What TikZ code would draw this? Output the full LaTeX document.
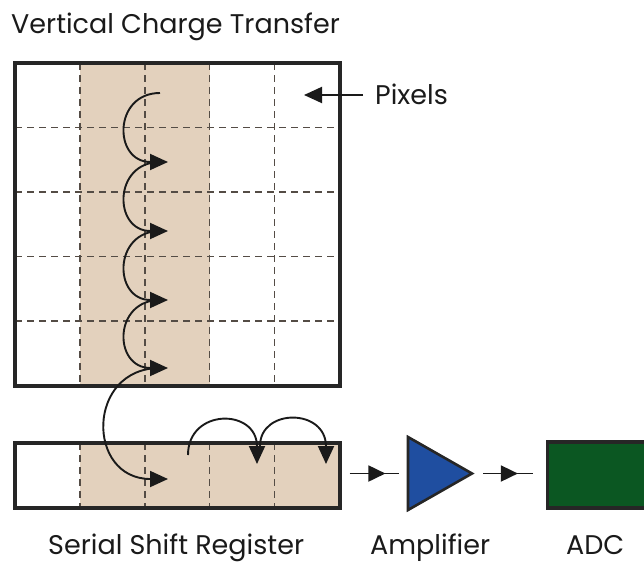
\documentclass[tikz,border=0pt]{standalone}
\usepackage{fontspec}
\setmainfont{Poppins}
\usetikzlibrary{arrows.meta,decorations.markings,calc}
\definecolor{tan}{HTML}{E3D1BD}
\definecolor{dashgray}{HTML}{544C45}
\definecolor{border}{HTML}{262626}
\definecolor{ink}{HTML}{1A1A1A}
\definecolor{ampblue}{HTML}{1F4EA0}
\definecolor{adcgreen}{HTML}{0B5722}
\tikzset{
  frame/.style={draw=border, line width=3.2pt, inner sep=0pt},
  gridline/.style={draw=dashgray, line width=1.6pt, dash pattern=on 7pt off 5pt},
  hop/.style={draw=ink, line width=1.9pt, -{Triangle[length=18pt,width=16pt]}},
  link/.style={draw=ink, line width=1.8pt},
  midtip/.style={postaction={decorate}, decoration={markings, mark=at position #1 with {\arrow{Triangle[length=17pt,width=16pt]}}}},
  lbl/.style={font=\fontsize{27}{32}\selectfont, text=ink, inner sep=0pt},
}
\begin{document}
\begin{tikzpicture}[x=1pt,y=-1pt]
\useasboundingbox (0,0) rectangle (644,562);
\begin{scope}
\clip (0,0) rectangle (644,562);
% title
\node[lbl, font=\fontsize{27}{32}\selectfont, anchor=base west] (title) at (11,33) {Vertical Charge Transfer};
% pixel grid
\fill[tan] (80,63) rectangle (209.5,386);
\foreach \x in {80,145,209.5,274.5} \draw[gridline] (\x,63) -- (\x,386);
\foreach \y in {127.5,192,256.5,321} \draw[gridline] (15,\y) -- (340,\y);
\node[frame, minimum width=325pt, minimum height=323pt] (grid) at (177.5,224.5) {};
% register
\fill[tan] (80,443) rectangle (340,508);
\foreach \x in {80,145,209.5,274.5} \draw[gridline] (\x,443) -- (\x,508);
\node[frame, minimum width=325pt, minimum height=65pt] (reg) at (177.5,475.5) {};
% pixels label
\node[lbl, anchor=base west] (pix) at (375,104) {Pixels};
\coordinate (pixtip) at (304,95);
\draw[hop, shorten <=12pt] (pix.west |- pixtip) -- (pixtip);
% vertical hops
\coordinate (v0) at (160,93);
\coordinate (v1) at (168,162);
\coordinate (v2) at (168,231);
\coordinate (v3) at (168,300);
\coordinate (v4) at (168,368);
\coordinate (v5) at (168,479);
\draw[hop] (v0) .. controls (113,93) and (113,162) .. (v1);
\draw[hop] ($(v1)+(-8,0)$) .. controls (113,162) and (113,231) .. (v2);
\draw[hop] ($(v2)+(-8,0)$) .. controls (113,231) and (113,300) .. (v3);
\draw[hop] ($(v3)+(-8,0)$) .. controls (113,300) and (113,368) .. (v4);
\draw[hop] ($(v4)+(-8,0)$) .. controls (86,368) and (86,479) .. (v5);
% horizontal hops in register
\coordinate (h0) at (188,455);
\coordinate (h1) at (257,464);
\coordinate (h1s) at (260,446);
\coordinate (h2) at (326,464);
\draw[hop] (h0) .. controls (188,408) and (257,408) .. (h1);
\draw[hop] (h1s) .. controls (260,408) and (326,408) .. (h2);
% amplifier
\coordinate (ampin) at (408,473.5);
\coordinate (amptip) at (472,473.5);
\draw[draw=border, line width=2.6pt, line join=miter, fill=ampblue] (408,437) -- (amptip) -- (408,510) -- cycle;
% ADC
\node[frame, fill=adcgreen, minimum width=110pt, minimum height=66pt, anchor=west] (adc) at (546,475) {};
% connectors
\draw[link, shorten <=8pt, shorten >=9pt, midtip=0.66] (reg.east |- ampin) -- (ampin);
\draw[link, shorten <=11pt, shorten >=13pt, midtip=0.62] (amptip) -- (adc.west |- amptip);
% bottom labels
\node[lbl, anchor=base west] (regl) at (48,554) {Serial Shift Register};
\node[lbl, anchor=base west] (ampl) at (370,554) {Amplifier};
\node[lbl, anchor=base west] (adcl) at (566,554) {ADC};
\end{scope}
\end{tikzpicture}
\end{document}
